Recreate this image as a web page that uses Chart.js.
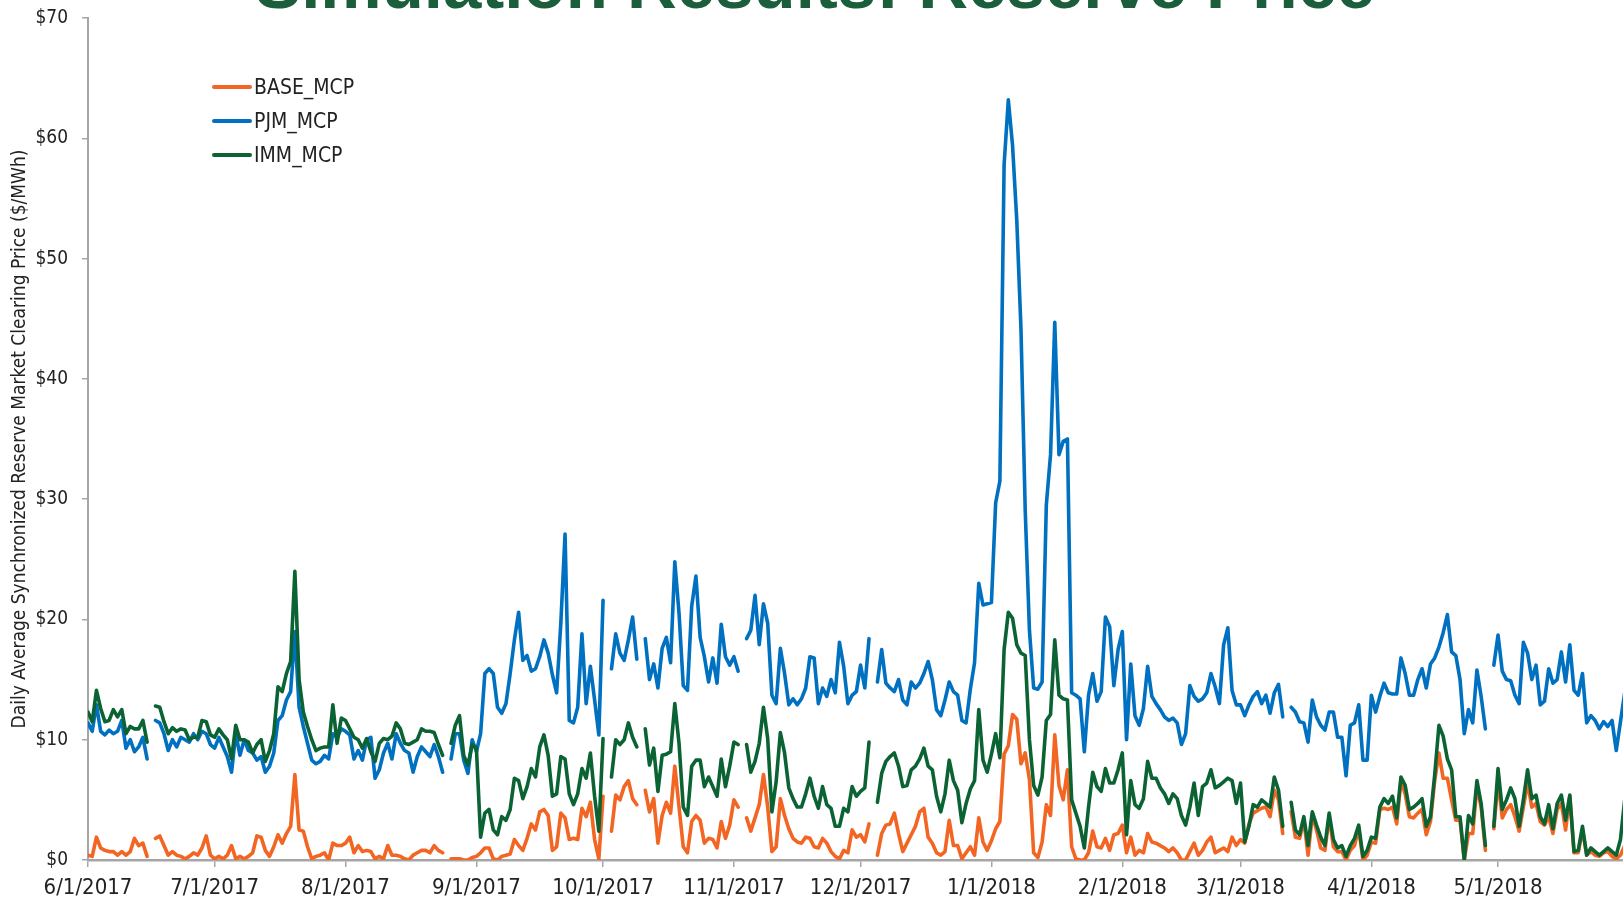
<!DOCTYPE html>
<html>
<head>
<meta charset="utf-8">
<title>Simulation Results: Reserve Price</title>
<script src="https://cdn.jsdelivr.net/npm/chart.js@4.4.0/dist/chart.umd.min.js"></script>
<style>
  html, body { margin: 0; padding: 0; background: #fff; overflow: hidden; }
  #wrap { position: relative; width: 1623px; height: 902px; }
  #title {
    position: absolute; left: 0; top: -50px; width: 1630px;
    text-align: center; white-space: nowrap;
    font: bold 69px 'Liberation Sans', Arial, sans-serif; line-height: 69px;
    color: #1b5e3b;
  }
  #legend {
    position: absolute; left: 212px; top: 70px;
    font: 21px 'Liberation Sans Narrow', 'Arial Narrow', 'DejaVu Sans Condensed', sans-serif;
    color: #222;
  }
  #legend .item { display: flex; align-items: center; height: 34px; }
  #legend .swatch { width: 40px; height: 3.5px; margin-right: 2px; border-radius: 2px; }
</style>
</head>
<body>
<div id="wrap">
  <canvas id="ChartReserve"></canvas>
  <div id="title">Simulation Results: Reserve Price</div>
  <div id="legend"></div>
</div>
<script>
// month ticks on the day axis (day 0 = 6/1/2017)
const monthTicks = [0, 30, 61, 92, 122, 153, 183, 214, 245, 273, 304, 334];
const monthLabels = ["6/1/2017", "7/1/2017", "8/1/2017", "9/1/2017", "10/1/2017", "11/1/2017",
  "12/1/2017", "1/1/2018", "2/1/2018", "3/1/2018", "4/1/2018", "5/1/2018"];

// daily values in $/MWh, null = missing day
const baseMcp = [
  0.4, 0.3, 1.9, 1.0, 0.8, 0.7, 0.7, 0.4, 0.7, 0.4,
  0.7, 1.8, 1.2, 1.4, 0.3, null, 1.8, 2.0, 1.2, 0.4,
  0.7, 0.4, 0.3, 0.1, 0.3, 0.6, 0.4, 1.0, 2.0, 0.4,
  0.1, 0.3, 0.1, 0.4, 1.2, 0.1, 0.3, 0.1, 0.3, 0.6,
  2.0, 1.9, 0.8, 0.3, 1.1, 2.1, 1.4, 2.2, 2.8, 7.1,
  2.5, 2.4, 1.1, 0.1, 0.3, 0.4, 0.6, 0.0, 1.4, 1.2,
  1.2, 1.4, 1.9, 0.6, 1.2, 0.7, 0.8, 0.7, 0.1, 0.3,
  0.1, 1.2, 0.4, 0.4, 0.3, 0.1, 0.0, 0.4, 0.6, 0.8,
  0.8, 0.6, 1.2, 0.8, 0.6, null, 0.1, 0.1, 0.1, 0.0,
  0.0, 0.2, 0.3, 0.6, 1.0, 1.0, 0.1, 0.0, 0.3, 0.4,
  0.5, 1.7, 1.2, 0.8, 1.8, 3.0, 2.5, 4.0, 4.2, 3.7,
  0.8, 1.1, 3.9, 3.5, 1.7, 1.8, 1.7, 4.3, 3.6, 4.8,
  1.7, 0.1, 5.3, null, 2.4, 5.4, 5.0, 6.1, 6.6, 5.1,
  4.6, null, 5.8, 4.0, 5.1, 1.4, 3.7, 4.8, 3.9, 7.8,
  4.4, 1.1, 0.6, 3.2, 3.7, 3.3, 1.4, 1.8, 1.7, 1.0,
  3.2, 1.8, 2.9, 5.0, 4.4, null, 3.5, 2.4, 3.5, 4.6,
  7.1, 4.4, 0.7, 1.1, 5.1, 3.7, 2.6, 1.8, 1.5, 1.4,
  1.9, 1.8, 1.1, 1.0, 1.8, 1.4, 0.7, 0.3, 0.1, 0.8,
  0.6, 2.5, 1.9, 2.1, 1.5, 3.0, null, 0.4, 2.2, 2.9,
  3.0, 3.9, 2.2, 0.7, 1.4, 2.1, 2.8, 4.0, 4.3, 1.9,
  1.4, 0.6, 0.4, 0.7, 3.3, 1.2, 1.2, 0.1, 0.6, 1.1,
  0.4, 3.5, 1.5, 0.8, 1.6, 2.6, 3.2, 8.8, 9.5, 12.1,
  11.7, 8.0, 8.9, 6.7, 0.6, 0.2, 1.5, 4.6, 3.7, 10.4,
  6.2, 5.0, 7.5, 1.1, 0.1, 0.0, 0.0, 0.6, 2.4, 1.1,
  1.0, 1.8, 0.8, 2.1, 2.2, 2.9, 0.6, 1.9, 0.4, 0.8,
  0.6, 2.2, 1.5, 1.4, 1.2, 1.0, 0.7, 1.0, 0.6, 0.0,
  0.0, 0.7, 1.4, 0.4, 0.8, 1.5, 1.9, 0.6, 0.8, 1.0,
  0.7, 1.9, 1.2, 1.7, 1.4, 3.0, 3.9, 4.1, 4.3, 4.4,
  3.6, 5.8, 5.0, 2.2, null, 4.0, 1.9, 1.8, 3.3, 0.4,
  3.7, 2.5, 1.0, 0.8, 3.6, 1.1, 0.7, 0.7, 0.0, 0.8,
  1.2, 2.6, 0.0, 0.4, 1.5, 1.4, 4.2, 4.3, 4.2, 4.4,
  3.0, 6.6, 5.5, 3.6, 3.5, 3.9, 4.2, 2.1, 3.2, 6.6,
  8.9, 6.8, 6.8, 5.0, 3.3, 3.3, 0.0, 2.2, 2.2, 6.1,
  4.4, 0.8, null, 2.6, 6.6, 3.5, 4.2, 4.6, 3.6, 2.4,
  4.4, 6.4, 4.4, 4.7, 3.2, 2.9, 3.6, 2.2, 4.2, 4.7,
  2.5, 5.3, 0.6, 0.6, 2.5, 0.4, 0.7, 0.4, 0.3, 0.6,
  0.7, 0.3, 0.1, 0.4, 1.2
];

const pjmMcp = [
  11.4, 10.7, 12.9, 10.7, 10.4, 10.8, 10.5, 10.7, 11.6, 9.3,
  10.0, 9.0, 9.4, 10.2, 8.4, null, 11.6, 11.4, 10.5, 9.1,
  10.0, 9.4, 10.2, 10.0, 9.8, 10.5, 10.0, 10.7, 10.5, 9.6,
  9.3, 10.2, 9.4, 8.6, 7.3, 10.5, 8.7, 10.0, 9.1, 8.9,
  8.3, 8.6, 7.3, 7.8, 8.9, 11.6, 12.0, 13.3, 14.0, 19.0,
  12.7, 11.1, 9.7, 8.3, 8.0, 8.2, 8.7, 8.4, 10.5, 10.2,
  10.9, 10.7, 10.4, 8.4, 9.1, 8.3, 10.0, 10.2, 6.8, 7.5,
  8.9, 9.7, 8.4, 10.5, 9.7, 9.1, 8.9, 7.3, 8.6, 9.4,
  9.0, 8.6, 9.6, 8.6, 7.3, null, 8.4, 10.5, 10.5, 8.3,
  7.2, 10.0, 9.0, 10.5, 15.5, 15.9, 15.5, 12.7, 12.2, 13.0,
  15.5, 18.3, 20.6, 16.6, 17.0, 15.7, 15.9, 16.9, 18.3, 17.2,
  15.4, 13.9, 19.7, 27.1, 11.6, 11.4, 12.7, 18.8, 13.0, 16.1,
  13.3, 10.4, 21.6, null, 15.9, 18.8, 17.2, 16.6, 18.3, 20.2,
  16.7, null, 18.4, 15.0, 16.3, 14.3, 17.6, 18.5, 16.4, 24.8,
  20.5, 14.5, 14.1, 21.1, 23.6, 18.5, 16.9, 14.8, 16.8, 14.7,
  19.6, 16.9, 16.2, 16.9, 15.7, null, 18.4, 19.1, 22.0, 17.9,
  21.3, 19.7, 13.7, 13.0, 17.6, 15.5, 12.9, 13.4, 12.9, 13.4,
  14.3, 16.9, 16.8, 13.0, 14.3, 13.6, 15.0, 13.9, 18.1, 16.1,
  13.0, 13.7, 14.0, 16.2, 14.3, 18.4, null, 14.8, 17.5, 14.7,
  14.3, 14.0, 15.0, 13.3, 12.9, 14.8, 14.3, 14.7, 15.5, 16.5,
  15.0, 12.5, 12.0, 13.3, 14.8, 14.0, 13.7, 11.6, 11.4, 14.2,
  16.4, 23.0, 21.2, 21.3, 21.4, 29.7, 31.5, 57.8, 63.2, 59.4,
  53.2, 44.1, 29.1, 19.1, 14.3, 14.2, 14.8, 29.5, 33.7, 44.7,
  33.7, 34.8, 35.0, 13.9, 13.7, 13.4, 9.0, 13.7, 15.5, 13.2,
  14.0, 20.2, 19.4, 14.5, 17.5, 19.0, 10.0, 16.3, 12.0, 11.2,
  12.6, 16.1, 13.6, 13.0, 12.5, 11.9, 11.6, 11.8, 11.4, 9.6,
  10.5, 14.5, 13.6, 13.2, 13.4, 13.9, 15.5, 14.4, 13.0, 17.9,
  19.3, 14.1, 12.9, 12.9, 12.0, 12.9, 13.6, 14.0, 13.0, 13.7,
  12.2, 13.9, 14.6, 11.9, null, 12.7, 12.3, 11.5, 11.4, 9.8,
  13.3, 11.9, 11.2, 10.8, 12.3, 12.3, 10.2, 10.2, 7.0, 11.2,
  11.4, 12.9, 8.3, 8.3, 13.7, 12.3, 13.6, 14.7, 13.9, 13.8,
  13.8, 16.8, 15.5, 13.7, 13.7, 15.0, 15.9, 14.3, 16.3, 16.8,
  17.7, 18.9, 20.4, 17.3, 17.0, 15.0, 10.5, 12.5, 11.4, 15.8,
  13.6, 10.9, null, 16.2, 18.7, 15.7, 15.0, 14.9, 13.7, 13.0,
  18.1, 17.2, 15.0, 16.2, 12.9, 13.2, 15.9, 14.7, 15.0, 17.3,
  14.8, 17.9, 14.1, 13.7, 15.5, 11.4, 12.0, 11.6, 10.9, 11.5,
  11.1, 11.6, 9.1, 11.5, 13.9
];

const immMcp = [
  12.3, 11.5, 14.1, 12.6, 11.5, 11.6, 12.5, 11.9, 12.5, 10.5,
  11.1, 10.9, 10.9, 11.6, 9.8, null, 12.8, 12.7, 11.5, 10.5,
  11.0, 10.7, 10.9, 10.8, 10.0, 10.2, 10.2, 11.6, 11.5, 10.4,
  10.2, 10.9, 10.4, 10.0, 8.4, 11.2, 10.0, 10.0, 9.8, 8.9,
  9.6, 10.0, 8.2, 9.1, 10.5, 14.4, 14.0, 15.5, 16.5, 24.0,
  15.0, 12.3, 11.1, 10.0, 9.1, 9.3, 9.4, 9.4, 12.9, 9.7,
  11.8, 11.6, 10.9, 10.2, 10.0, 9.3, 10.1, 9.0, 8.2, 9.7,
  10.1, 10.0, 10.3, 11.4, 10.9, 9.7, 9.6, 9.8, 10.0, 10.9,
  10.7, 10.7, 10.6, 9.6, 8.7, null, 9.7, 11.2, 12.0, 8.7,
  7.9, 9.6, 9.3, 1.9, 3.9, 4.2, 2.5, 2.1, 3.6, 3.3,
  4.2, 6.8, 6.6, 5.1, 6.1, 7.6, 6.9, 9.4, 10.4, 8.7,
  5.3, 5.5, 8.6, 8.4, 5.5, 4.6, 5.5, 7.6, 6.8, 8.9,
  5.3, 2.4, 10.1, null, 6.9, 10.0, 9.6, 10.0, 11.4, 10.2,
  9.4, null, 10.9, 7.9, 9.3, 5.7, 8.7, 8.8, 9.0, 13.0,
  9.7, 4.4, 3.7, 7.8, 8.3, 8.3, 6.1, 6.9, 6.1, 5.3,
  8.4, 6.1, 7.8, 9.8, 9.6, null, 9.6, 7.3, 8.2, 9.7,
  12.7, 10.1, 4.0, 6.5, 10.6, 8.9, 6.0, 5.1, 4.4, 4.4,
  5.5, 6.8, 5.3, 4.3, 6.1, 4.6, 4.3, 2.8, 2.8, 4.3,
  4.0, 6.1, 5.3, 5.7, 6.0, 9.8, null, 4.8, 7.2, 8.2,
  8.6, 8.9, 7.8, 6.1, 6.2, 7.5, 7.8, 8.4, 9.3, 7.8,
  7.5, 5.3, 4.0, 5.5, 8.3, 6.6, 5.8, 3.1, 4.7, 5.9,
  6.6, 12.5, 8.3, 7.3, 8.8, 10.5, 8.5, 17.5, 20.6, 20.1,
  17.9, 17.2, 17.0, 10.0, 6.2, 5.4, 6.9, 11.6, 12.1, 18.3,
  13.7, 13.4, 13.3, 5.0, 3.9, 2.8, 1.0, 4.4, 7.3, 6.1,
  5.7, 7.6, 6.4, 6.4, 7.5, 8.9, 2.1, 6.6, 4.6, 4.3,
  5.1, 8.2, 6.8, 6.8, 6.0, 5.5, 4.7, 5.5, 5.1, 3.7,
  2.9, 4.4, 6.4, 3.7, 6.1, 6.4, 7.5, 6.0, 6.2, 6.5,
  6.8, 6.6, 4.7, 6.4, 1.5, 2.8, 4.6, 4.4, 5.0, 4.7,
  4.4, 6.9, 5.8, 2.8, null, 4.8, 2.5, 2.1, 3.6, 1.2,
  4.0, 2.9, 1.9, 1.2, 3.9, 1.7, 1.0, 1.2, 0.3, 1.2,
  1.8, 2.9, 0.3, 0.8, 1.9, 1.8, 4.4, 5.1, 4.7, 5.3,
  3.5, 6.9, 6.2, 4.2, 4.4, 4.7, 5.1, 2.8, 3.6, 7.1,
  11.2, 10.3, 8.4, 7.5, 3.6, 3.6, 0.0, 3.7, 3.0, 6.6,
  4.7, 1.2, null, 2.8, 7.6, 4.2, 5.0, 6.0, 5.1, 2.8,
  5.0, 7.5, 5.1, 5.4, 3.6, 3.0, 4.6, 2.6, 4.7, 5.4,
  3.3, 5.4, 0.7, 0.8, 2.8, 0.4, 1.0, 0.7, 0.4, 0.7,
  1.0, 0.7, 0.4, 1.7, 5.0
];

const FONT = "'Liberation Sans Narrow', 'Arial Narrow', 'DejaVu Sans Condensed', sans-serif";
const AXIS_GREY = "#a6a6a6";

const series = [
  { label: "BASE_MCP", data: baseMcp, color: "#f26522", order: 3 },
  { label: "PJM_MCP", data: pjmMcp, color: "#0070c0", order: 2 },
  { label: "IMM_MCP", data: immMcp, color: "#0b6334", order: 1 },
];

const toPoints = (arr) => arr.map((v, i) => ({ x: i, y: v }));

const ctx = document.getElementById("ChartReserve");
new Chart(ctx, {
  type: "line",
  data: {
    datasets: series.map((s) => ({
      label: s.label,
      data: toPoints(s.data),
      borderColor: s.color,
      backgroundColor: s.color,
      borderWidth: 3.6,
      pointRadius: 0,
      tension: 0,
      borderJoinStyle: "round",
      borderCapStyle: "round",
      spanGaps: false,
      order: s.order,
    })),
  },
  options: {
    responsive: true,
    maintainAspectRatio: false,
    animation: false,
    layout: { padding: { top: 18, right: 0, left: 0, bottom: 0 } },
    plugins: {
      legend: { display: false },
      tooltip: { enabled: false },
    },
    scales: {
      x: {
        type: "linear",
        min: 0,
        max: 363.6,
        afterBuildTicks: (scale) => {
          scale.ticks = monthTicks.map((v) => ({ value: v }));
        },
        afterFit: (scale) => { scale.height = 42; },
        ticks: {
          autoSkip: false,
          maxRotation: 0,
          padding: 8,
          color: "#222",
          font: { family: FONT, size: 22 },
          callback: (v, i) => monthLabels[i],
        },
        grid: { drawOnChartArea: false, tickLength: 7, color: AXIS_GREY, lineWidth: 1.5 },
        border: { color: AXIS_GREY, width: 2.5 },
      },
      y: {
        min: 0,
        max: 70,
        afterFit: (scale) => {
          // keep the plot edges where the picture has them
          scale.width = 88;
          scale.paddingTop = 0;
          scale.paddingBottom = 0;
        },
        ticks: {
          stepSize: 10,
          padding: 14,
          color: "#222",
          font: { family: FONT, size: 19 },
          callback: (v) => "$" + v,
        },
        grid: { drawOnChartArea: false, tickLength: 6, color: AXIS_GREY, lineWidth: 1.5 },
        border: { color: AXIS_GREY, width: 2 },
        title: {
          display: true,
          text: "Daily Average Synchronized Reserve Market Clearing Price ($/MWh)",
          color: "#222",
          font: { family: FONT, size: 19 },
          padding: { top: 9, bottom: 0 },
        },
      },
    },
  },
});

// legend, stacked vertically in the upper left of the plot
const legend = document.getElementById("legend");
series.forEach((s) => {
  const row = document.createElement("div");
  row.className = "item";
  const sw = document.createElement("span");
  sw.className = "swatch";
  sw.style.background = s.color;
  const txt = document.createElement("span");
  txt.textContent = s.label;
  row.appendChild(sw);
  row.appendChild(txt);
  legend.appendChild(row);
});
</script>
</body>
</html>
